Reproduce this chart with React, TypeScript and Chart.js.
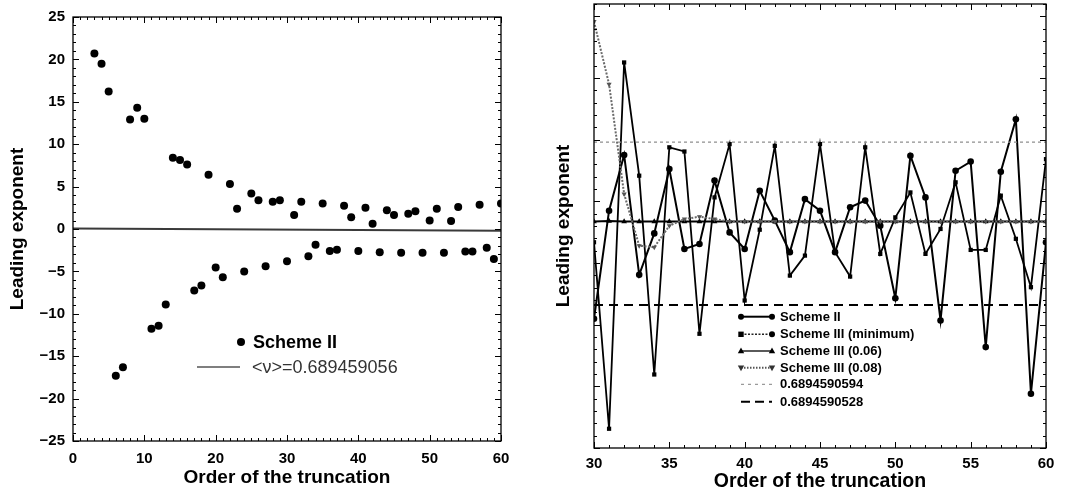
import React, { useEffect, useRef } from "react";
import { Chart, registerables } from "chart.js";

Chart.register(...registerables);

const FONT = "'Liberation Sans', Arial, Helvetica, sans-serif";

// ---------- Left panel data ----------
const leftOrders = [
  3, 4, 5, 6, 7, 8, 9, 10, 11, 12, 13, 14, 15, 16, 17, 18, 19, 20, 21, 22,
  23, 24, 25, 26, 27, 28, 29, 30, 31, 32, 33, 34, 35, 36, 37, 38, 39, 40, 41,
  42, 43, 44, 45, 46, 47, 48, 49, 50, 51, 52, 53, 54, 55, 56, 57, 58, 59, 60,
];
const leftSchemeII = [
  20.7, 19.5, 16.2, -17.3, -16.3, 12.9, 14.3, 13.0, -11.75, -11.4, -8.9, 8.4,
  8.15, 7.6, -7.25, -6.65, 6.4, -4.55, -5.7, 5.3, 2.4, -5.0, 4.2, 3.4, -4.4,
  3.2, 3.4, -3.8, 1.65, 3.2, -3.2, -1.85, 3.0, -2.6, -2.45, 2.75, 1.4, -2.6,
  2.5, 0.63, -2.75, 2.2, 1.65, -2.8, 1.8, 2.08, -2.8, 1.0, 2.4, -2.8, 0.94,
  2.6, -2.65, -2.65, 2.86, -2.2, -3.55, 3.0,
];
const meanLineX = [0, 60];
const meanLineY = [0.05, -0.2];
const leftLegendLabels = ["Scheme II", "<\u03bd>=0.689459056"];

// ---------- Right panel data ----------
// values are (leading exponent - 0.689459047) x 1e9
const rightOffset = 0.689459047;
const rightOrders = [
  30, 31, 32, 33, 34, 35, 36, 37, 38, 39, 40, 41, 42, 43, 44, 45, 46, 47, 48,
  49, 50, 51, 52, 53, 54, 55, 56, 57, 58, 59, 60,
];
const schemeII = [
  5.24, 9.62, 11.88, 7.02, 8.7, 11.31, 8.07, 8.27, 10.84, 8.74, 8.07, 10.43,
  9.22, 7.94, 10.09, 9.62, 7.94, 9.76, 10.03, 9.01, 6.07, 11.85, 10.16, 5.17,
  11.24, 11.61, 4.09, 11.2, 13.33, 2.2, 8.34,
];
const schemeIIIMin = [
  8.34, 0.78, 15.63, 11.04, 2.98, 12.19, 12.02, 4.63, 10.16, 12.32, 5.98, 8.85,
  12.25, 6.99, 7.8, 12.32, 7.94, 6.95, 12.19, 7.87, 9.35, 10.36, 7.87, 8.88,
  10.77, 8.03, 8.03, 10.23, 8.48, 6.52, 11.71,
];
const schemeIII006 = [
  9.18, 9.2, 9.18, 9.18, 9.18, 9.18, 9.18, 9.18, 9.18, 9.18, 9.18, 9.18, 9.18,
  9.18, 9.18, 9.18, 9.18, 9.18, 9.18, 9.18, 9.18, 9.18, 9.18, 9.18, 9.18, 9.18,
  9.18, 9.18, 9.18, 9.18, 9.18,
];
const schemeIII008 = [
  17.29, 14.75, 10.3, 8.2, 8.14, 9.01, 9.28, 9.38, 9.28, 9.18, 9.18, 9.18,
  9.18, 9.18, 9.18, 9.18, 9.18, 9.18, 9.18, 9.18, 9.18, 9.18, 9.18, 9.18,
  9.18, 9.18, 9.18, 9.18, 9.18, 9.18, 9.18,
];
const refHighLabel = "0.6894590594";
const refLowLabel = "0.6894590528";
const refHigh = (parseFloat(refHighLabel) - rightOffset) * 1e9;
const refLow = (parseFloat(refLowLabel) - rightOffset) * 1e9;
const rightLegendLabels = [
  "Scheme II",
  "Scheme III (minimum)",
  "Scheme III (0.06)",
  "Scheme III (0.08)",
  refHighLabel,
  refLowLabel,
];

const pts = (xs: number[], ys: number[]) => xs.map((x, i) => ({ x, y: ys[i] }));

function marker(ctx: CanvasRenderingContext2D, kind: string, x: number, y: number, r: number) {
  ctx.beginPath();
  if (kind === "circle") {
    ctx.arc(x, y, r, 0, Math.PI * 2);
  } else if (kind === "rect") {
    ctx.rect(x - r, y - r, 2 * r, 2 * r);
  } else if (kind === "tri") {
    ctx.moveTo(x, y - r * 1.1);
    ctx.lineTo(x + r, y + r * 0.7);
    ctx.lineTo(x - r, y + r * 0.7);
    ctx.closePath();
  } else if (kind === "tridown") {
    ctx.moveTo(x, y + r * 1.1);
    ctx.lineTo(x + r, y - r * 0.7);
    ctx.lineTo(x - r, y - r * 0.7);
    ctx.closePath();
  }
  ctx.fill();
}

const frameTicksPlugin = {
  id: "frameTicks",
  afterDatasetsDraw(chart: any, _args: any, opts: any) {
    const { ctx, chartArea: a } = chart;
    const xs = chart.scales.x;
    const ys = chart.scales.y;
    ctx.save();
    ctx.strokeStyle = "#000";
    ctx.lineWidth = 1.3;
    ctx.strokeRect(a.left, a.top, a.right - a.left, a.bottom - a.top);
    ctx.lineWidth = 1;
    ctx.beginPath();
    const nx = Math.round((xs.max - xs.min) / opts.xMinor);
    for (let i = 0; i <= nx; i++) {
      const v = xs.min + i * opts.xMinor;
      const q = v / opts.xMajor;
      const major = Math.abs(q - Math.round(q)) < 1e-6;
      const len = major ? opts.majorLen : opts.minorLen;
      const px = Math.round(xs.getPixelForValue(v)) + 0.5;
      ctx.moveTo(px, a.bottom);
      ctx.lineTo(px, a.bottom - len);
      ctx.moveTo(px, a.top);
      ctx.lineTo(px, a.top + len);
    }
    const ny = Math.round((ys.max - ys.min) / opts.yMinor);
    for (let i = 0; i <= ny; i++) {
      const v = ys.min + i * opts.yMinor;
      const q = v / opts.yMajor;
      const major = Math.abs(q - Math.round(q)) < 1e-6;
      const len = major ? opts.majorLen : opts.minorLen;
      const py = Math.round(ys.getPixelForValue(v)) + 0.5;
      ctx.moveTo(a.left, py);
      ctx.lineTo(a.left + len, py);
      ctx.moveTo(a.right, py);
      ctx.lineTo(a.right - len, py);
    }
    ctx.stroke();
    ctx.restore();
  },
};

const leftLegendPlugin = {
  id: "leftLegend",
  afterDraw(chart: any) {
    const ctx: CanvasRenderingContext2D = chart.ctx;
    ctx.save();
    ctx.fillStyle = "#000";
    marker(ctx, "circle", 241, 342, 4);
    ctx.font = `bold 18px ${FONT}`;
    ctx.textBaseline = "middle";
    ctx.textAlign = "left";
    ctx.fillText(leftLegendLabels[0], 253, 343);
    ctx.strokeStyle = "#555";
    ctx.lineWidth = 1.5;
    ctx.beginPath();
    ctx.moveTo(197, 367);
    ctx.lineTo(240, 367);
    ctx.stroke();
    ctx.fillStyle = "#333";
    ctx.font = `18px ${FONT}`;
    ctx.fillText(leftLegendLabels[1], 252, 368);
    ctx.restore();
  },
};

const rightLegendPlugin = {
  id: "rightLegend",
  afterDraw(chart: any) {
    const ctx: CanvasRenderingContext2D = chart.ctx;
    const rows = [316.7, 334.3, 351, 367.7, 384.3, 401.7];
    const x1 = 201;
    const x2 = 232;
    const tx = 240;
    ctx.save();
    const seg = (y: number, color: string, w: number, dash: number[]) => {
      ctx.strokeStyle = color;
      ctx.lineWidth = w;
      ctx.setLineDash(dash);
      ctx.beginPath();
      ctx.moveTo(x1, y);
      ctx.lineTo(x2, y);
      ctx.stroke();
      ctx.setLineDash([]);
    };
    seg(rows[0], "#000", 2, []);
    ctx.fillStyle = "#000";
    marker(ctx, "circle", x1, rows[0], 3);
    marker(ctx, "circle", x2, rows[0], 3);
    seg(rows[1], "#222", 1.5, [2, 1.5]);
    marker(ctx, "rect", x1, rows[1], 2.7);
    marker(ctx, "circle", x2, rows[1], 3);
    seg(rows[2], "#000", 1.3, []);
    marker(ctx, "tri", x1, rows[2], 3.2);
    marker(ctx, "tri", x2, rows[2], 3.2);
    seg(rows[3], "#555", 2, [1.5, 1.5]);
    ctx.fillStyle = "#333";
    marker(ctx, "tridown", x1, rows[3], 3.2);
    marker(ctx, "tridown", x2, rows[3], 3.2);
    seg(rows[4], "#9a9a9a", 1.2, [3, 4]);
    seg(rows[5], "#000", 2, [9, 5]);
    ctx.fillStyle = "#000";
    ctx.font = `bold 13px ${FONT}`;
    ctx.textBaseline = "middle";
    ctx.textAlign = "left";
    rightLegendLabels.forEach((t, i) => ctx.fillText(t, tx, rows[i] + 0.5));
    ctx.restore();
  },
};

const minusFmt = (v: any) => {
  const n = Number(v);
  return n < 0 ? "\u2212" + Math.abs(n) : String(n);
};

function LeftChart() {
  const ref = useRef<HTMLCanvasElement>(null);
  useEffect(() => {
    const chart = new Chart(ref.current as HTMLCanvasElement, {
      type: "scatter",
      data: {
        datasets: [
          {
            label: leftLegendLabels[1],
            data: pts(meanLineX, meanLineY),
            showLine: true,
            borderColor: "#3a3a3a",
            borderWidth: 2,
            pointRadius: 0,
          },
          {
            label: leftLegendLabels[0],
            data: pts(leftOrders, leftSchemeII),
            backgroundColor: "#000",
            borderColor: "#000",
            pointRadius: 4,
            pointBorderWidth: 0,
          },
        ],
      },
      options: {
        animation: false,
        responsive: false,
        layout: { padding: { left: 0, top: 15, right: 39, bottom: 0 } },
        plugins: {
          legend: { display: false },
          tooltip: { enabled: false },
          frameTicks: { xMinor: 1, xMajor: 10, yMinor: 1, yMajor: 5, majorLen: 6, minorLen: 3 },
        } as any,
        scales: {
          x: {
            type: "linear",
            min: 0,
            max: 60,
            grid: { display: false, drawTicks: false },
            border: { display: false },
            ticks: { stepSize: 10, color: "#000", padding: 9, font: { family: FONT, size: 15, weight: "bold" } },
            title: {
              display: true,
              text: "Order of the truncation",
              color: "#000",
              font: { family: FONT, size: 19, weight: "bold" },
              padding: { top: 0, bottom: 6 },
            },
            afterFit: (s: any) => {
              s.height = 54;
            },
          },
          y: {
            type: "linear",
            min: -25,
            max: 25,
            grid: { display: false, drawTicks: false },
            border: { display: false },
            ticks: {
              stepSize: 5,
              color: "#000",
              padding: 8,
              font: { family: FONT, size: 15, weight: "bold" },
              callback: minusFmt,
            },
            title: {
              display: true,
              text: "Leading exponent",
              color: "#000",
              font: { family: FONT, size: 19, weight: "bold" },
              padding: { top: 6, bottom: 0 },
            },
            afterFit: (s: any) => {
              s.width = 73;
            },
          },
        },
      } as any,
      plugins: [frameTicksPlugin, leftLegendPlugin],
    });
    return () => chart.destroy();
  }, []);
  return <canvas ref={ref} width={540} height={495} style={{ position: "absolute", left: 0, top: 0, width: 540, height: 495 }} />;
}

function RightChart() {
  const ref = useRef<HTMLCanvasElement>(null);
  useEffect(() => {
    const chart = new Chart(ref.current as HTMLCanvasElement, {
      type: "scatter",
      data: {
        datasets: [
          {
            label: refHighLabel,
            data: pts([30, 60], [refHigh, refHigh]),
            showLine: true,
            borderColor: "#8f8f8f",
            borderWidth: 1.3,
            borderDash: [3, 3],
            pointRadius: 0,
          },
          {
            label: refLowLabel,
            data: pts([30, 60], [refLow, refLow]),
            showLine: true,
            borderColor: "#000",
            borderWidth: 2,
            borderDash: [9, 6],
            pointRadius: 0,
          },
          {
            label: rightLegendLabels[3],
            data: pts(rightOrders, schemeIII008),
            showLine: true,
            borderColor: "#6a6a6a",
            borderWidth: 2,
            borderDash: [2, 1.5],
            pointStyle: "triangle",
            pointRotation: 180,
            pointRadius: 3,
            backgroundColor: "#555",
            pointBorderWidth: 0,
          },
          {
            label: rightLegendLabels[2],
            data: pts(rightOrders, schemeIII006),
            showLine: true,
            borderColor: "#000",
            borderWidth: 2,
            pointStyle: "triangle",
            pointRadius: 3.3,
            backgroundColor: "#000",
            pointBorderWidth: 0,
          },
          {
            label: rightLegendLabels[1],
            data: pts(rightOrders, schemeIIIMin),
            showLine: true,
            borderColor: "#000",
            borderWidth: 1.8,
            pointStyle: "rect",
            pointRadius: 3,
            backgroundColor: "#000",
            pointBorderWidth: 0,
          },
          {
            label: rightLegendLabels[0],
            data: pts(rightOrders, schemeII),
            showLine: true,
            borderColor: "#000",
            borderWidth: 2,
            pointStyle: "circle",
            pointRadius: 3.3,
            backgroundColor: "#000",
            pointBorderWidth: 0,
          },
        ],
      },
      options: {
        animation: false,
        responsive: false,
        layout: { padding: { left: 0, top: 2, right: 32, bottom: 0 } },
        plugins: {
          legend: { display: false },
          tooltip: { enabled: false },
          frameTicks: { xMinor: 1, xMajor: 5, yMinor: 0.5, yMajor: 2.5, majorLen: 6, minorLen: 3 },
        } as any,
        scales: {
          x: {
            type: "linear",
            min: 30,
            max: 60,
            grid: { display: false, drawTicks: false },
            border: { display: false },
            ticks: { stepSize: 5, color: "#000", padding: 7, font: { family: FONT, size: 15, weight: "bold" } },
            title: {
              display: true,
              text: "Order of the truncation",
              color: "#000",
              font: { family: FONT, size: 19.5, weight: "bold" },
              padding: { top: 0, bottom: 2 },
            },
            afterFit: (s: any) => {
              s.height = 47;
            },
          },
          y: {
            type: "linear",
            min: 0,
            max: 18,
            grid: { display: false, drawTicks: false },
            border: { display: false },
            ticks: { display: false, stepSize: 2.5 },
            title: {
              display: true,
              text: "Leading exponent",
              color: "#000",
              font: { family: FONT, size: 19, weight: "bold" },
              padding: { top: 12, bottom: 0 },
            },
            afterFit: (s: any) => {
              s.width = 54;
            },
          },
        },
      } as any,
      plugins: [frameTicksPlugin, rightLegendPlugin],
    });
    return () => chart.destroy();
  }, []);
  return <canvas ref={ref} width={538} height={495} style={{ position: "absolute", left: 540, top: 0, width: 538, height: 495 }} />;
}

export default function App() {
  return (
    <div style={{ position: "absolute", left: 0, top: 0, width: 1078, height: 495, background: "#fff" }}>
      <LeftChart />
      <RightChart />
    </div>
  );
}
